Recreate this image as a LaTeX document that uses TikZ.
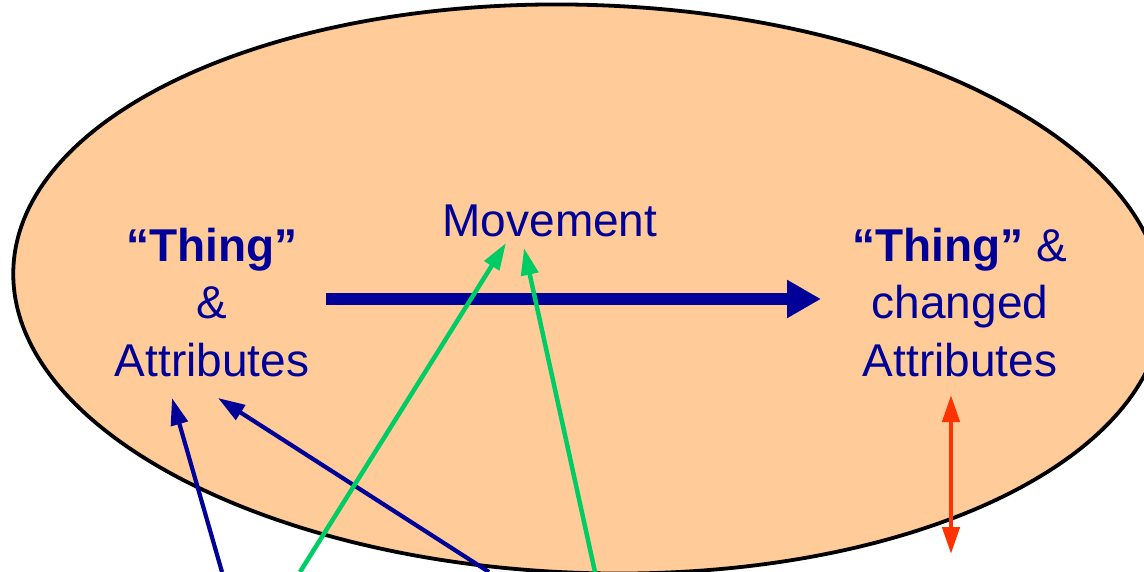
\documentclass[tikz,border=0pt]{standalone}
\usepackage{fontspec}
\setmainfont{Liberation Sans}
\usetikzlibrary{arrows.meta}
\definecolor{navy}{RGB}{0,0,153}
\definecolor{peach}{RGB}{255,204,153}
\definecolor{mint}{RGB}{0,204,102}
\definecolor{redor}{RGB}{255,51,0}
\begin{document}
\begin{tikzpicture}[x=1pt,y=-1pt,
  lbl/.style={text=navy, font=\fontsize{46}{57.5}\selectfont, align=center, inner sep=0pt},
  bigarrow/.style={navy, line width=12pt, -{Triangle[length=34pt,width=36pt]}},
  bluelink/.style={navy, line width=4.2pt, -{Triangle[length=27pt,width=17pt]}},
  greenlink/.style={mint, line width=4.5pt, -{Triangle[length=27pt,width=17pt]}},
  redlink/.style={redor, line width=4.5pt, {Triangle[length=27pt,width=17pt]}-{Triangle[length=27pt,width=17pt]}}]
\useasboundingbox (0,0) rectangle (1144,572);
\clip (0,0) rectangle (1144,572);
\draw[fill=peach, line width=3.8pt, rotate around={-2:(588,289)}] (588,289) ellipse [x radius=575, y radius=284];
\node[lbl, anchor=base] (thing1) at (212,376) {\textbf{“Thing”}\\\&\\Attributes};
\node[lbl, anchor=base] (thing2) at (960,376) {\textbf{“Thing”} \&\\changed\\Attributes};
\node[lbl, anchor=base] (move) at (550,237) {Movement};
\coordinate (a1) at (326,299);
\coordinate (a2) at (821,299);
\draw[bigarrow] (a1) -- (a2);
\coordinate (b1s) at (222,572);
\coordinate (b1t) at (172,398);
\coordinate (b2s) at (489,572);
\coordinate (b2t) at (218,398);
\coordinate (g1s) at (300,572);
\coordinate (g1t) at (506,243);
\coordinate (g2s) at (595,572);
\coordinate (g2t) at (524,248);
\coordinate (r1) at (951,395);
\coordinate (r2) at (951,554);
\draw[bluelink] (b1s) -- (b1t);
\draw[bluelink] (b2s) -- (b2t);
\draw[greenlink] (g1s) -- (g1t);
\draw[greenlink] (g2s) -- (g2t);
\draw[redlink] (r1) -- (r2);
\end{tikzpicture}
\end{document}
